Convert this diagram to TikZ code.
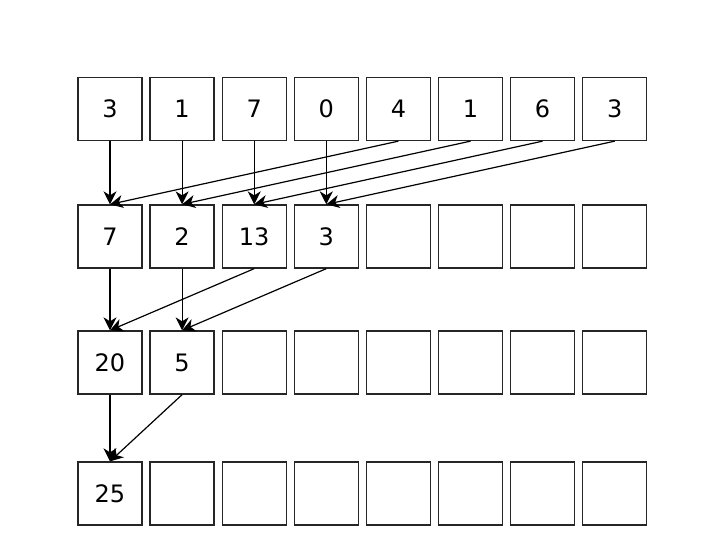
\documentclass[tikz,border=0pt]{standalone}
\usepackage{fontspec}
\setmainfont{DejaVu Sans}
\usetikzlibrary{arrows.meta}
\begin{document}
\begin{tikzpicture}[x=1pt,y=-1pt,
  cell/.style={draw=black!85,line width=1.3pt,minimum width=64pt,minimum height=63pt,inner sep=0pt,text height=17.5pt,text depth=0pt,font=\fontsize{24}{26}\selectfont},
  link/.style={line width=1.2pt,-{Stealth[length=13pt,width=13pt,inset=4pt]}}]
\useasboundingbox (0,0) rectangle (720,553);
\def\ya{109}\def\yb{236.5}\def\yc{362.5}\def\yd{493.5}
\foreach \v [count=\i from 0] in {3,1,7,0,4,1,6,3} {
  \node[cell] (a\i) at (110+72.1*\i,\ya) {\v};
}
\foreach \v [count=\i from 0] in {7,2,13,3,{},{},{},{}} {
  \node[cell] (b\i) at (110+72.1*\i,\yb) {\v};
}
\foreach \v [count=\i from 0] in {20,5,{},{},{},{},{},{}} {
  \node[cell] (c\i) at (110+72.1*\i,\yc) {\v};
}
\foreach \v [count=\i from 0] in {25,{},{},{},{},{},{},{}} {
  \node[cell] (d\i) at (110+72.1*\i,\yd) {\v};
}
\foreach \i in {0,1,2,3} {
  \pgfmathtruncatemacro{\j}{\i+4}
  \draw[link] (a\i.south) -- (b\i.north);
  \draw[link] (a\j.south) -- (b\i.north);
}
\foreach \i in {0,1} {
  \pgfmathtruncatemacro{\j}{\i+2}
  \draw[link] (b\i.south) -- (c\i.north);
  \draw[link] (b\j.south) -- (c\i.north);
}
\draw[link] (c0.south) -- (d0.north);
\draw[link] (c1.south) -- (d0.north);
\end{tikzpicture}
\end{document}
